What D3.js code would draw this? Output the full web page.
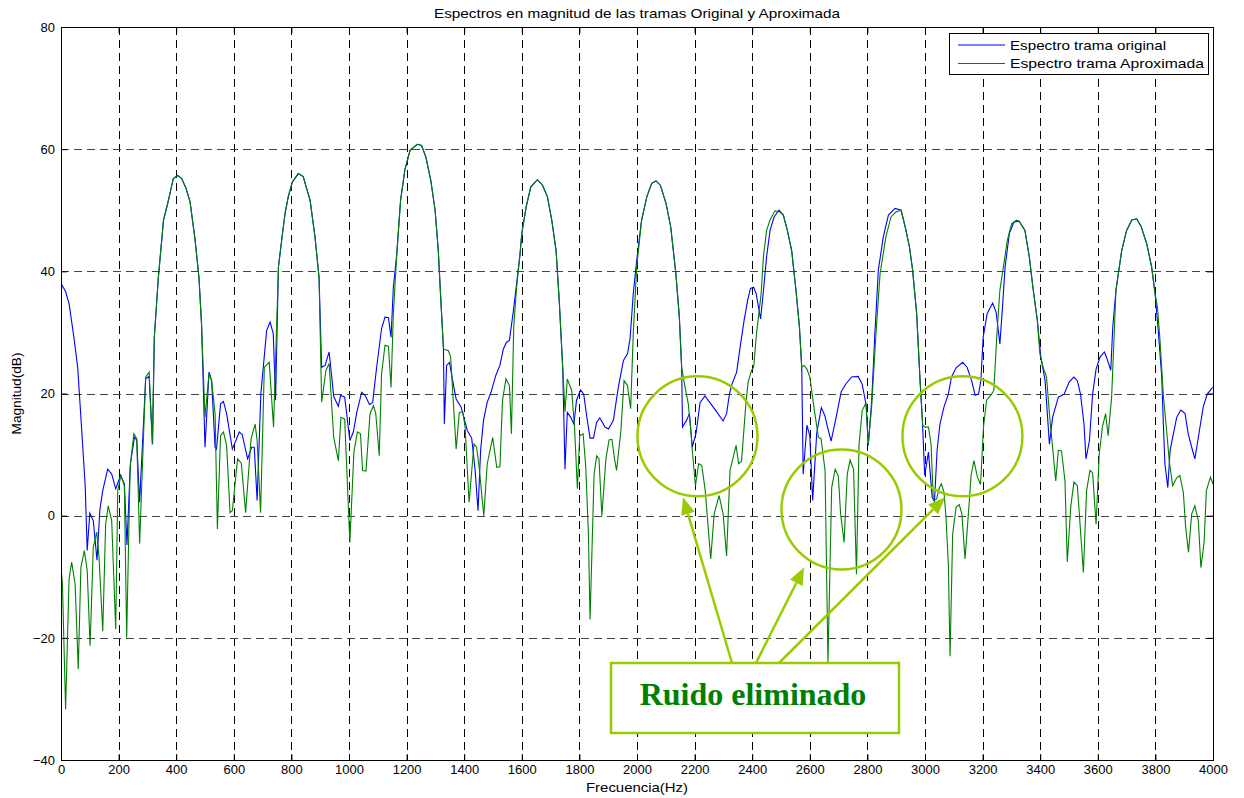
<!DOCTYPE html>
<html><head><meta charset="utf-8">
<script src="https://cdn.jsdelivr.net/npm/d3@7"></script>
<style>body{margin:0;background:#fff}svg{display:block}text{font-family:"Liberation Sans",Arial,sans-serif}</style>
</head><body><div id="chart"></div>
<script>
const titleText = "Espectros en magnitud de las tramas Original y Aproximada";
const xLabel = "Frecuencia(Hz)";
const yLabel = "Magnitud(dB)";
const seriesNames = ["Espectro trama original", "Espectro trama Aproximada"];
const xTicks = [0,200,400,600,800,1000,1200,1400,1600,1800,2000,2200,2400,2600,2800,3000,3200,3400,3600,3800,4000];
const yTicks = [-40,-20,0,20,40,60,80];

// [frequency Hz, magnitude dB]
const original = [[0,38],[16,36.7],[28,34.7],[43,29.8],[58,24.3],[72,13.9],[84,4.9],[91,-5.7],[100,0.4],[112,-0.8],[125,-7.3],[135,1],[145,4.1],[162,7.6],[176,6.8],[190,4.4],[207,6.6],[220,5.2],[229,-4.8],[241,8.5],[255,12.8],[263,12.4],[273,2.2],[294,22.4],[306,22.8],[318,11.7],[324,29.2],[338,39],[356,48.4],[373,51.6],[390,55.2],[405,55.7],[419,55.2],[434,53.6],[448,51.4],[465,45.4],[479,39],[488,31.4],[500,11.2],[514,23.5],[523,22.1],[535,11.2],[540,10.9],[554,18.3],[564,18.7],[575,16.7],[595,10.9],[619,13.7],[629,13.3],[648,9.3],[662,11.2],[671,11.2],[681,2.5],[694,20],[714,30.3],[726,31.7],[737,29.8],[745,18.9],[755,40.7],[766,45],[778,49.5],[789,52.2],[803,54.6],[824,56],[841,55.5],[865,51.6],[882,45.6],[896,39],[905,24.3],[917,24.6],[931,26.8],[947,19.5],[963,17.9],[971,19.7],[985,19.4],[1003,12.3],[1015,13.7],[1027,16.9],[1044,20.2],[1056,19.7],[1071,18.2],[1082,18.5],[1096,24.3],[1113,30.6],[1125,32.5],[1137,32.4],[1146,29.2],[1154,37.4],[1166,42.9],[1179,51.6],[1194,56.6],[1212,59.8],[1237,60.8],[1252,60.6],[1267,58.7],[1284,54.9],[1299,50],[1310,43.4],[1319,35.2],[1328,27.3],[1331,15],[1339,24.6],[1349,25.1],[1360,22.1],[1372,19.1],[1389,17.8],[1403,15.3],[1411,13.9],[1426,12.7],[1438,7.4],[1448,0.8],[1457,10.7],[1467,15.6],[1480,18.6],[1493,20.2],[1510,23],[1524,24.6],[1536,27.3],[1547,28.4],[1557,28.7],[1571,33.6],[1582,38],[1594,42.9],[1600,46.2],[1615,50.5],[1631,53.8],[1654,55],[1672,54.1],[1689,52.2],[1704,48.4],[1719,43.4],[1730,35.2],[1742,24.3],[1750,7.6],[1758,16.9],[1770,16.1],[1781,15],[1790,18.9],[1804,20.6],[1815,19.9],[1825,16.4],[1837,12.7],[1849,12.7],[1860,15.3],[1871,16],[1889,14.5],[1901,14.2],[1918,15.6],[1935,21],[1953,25.4],[1967,26.5],[1976,29],[1987,36.3],[1999,41.8],[2016,48.4],[2034,52.2],[2051,54.4],[2066,54.8],[2081,54.1],[2101,51.1],[2117,47.3],[2135,39.6],[2147,32.5],[2155,24.3],[2158,14.5],[2172,15.6],[2182,16.7],[2192,11.2],[2205,13.5],[2219,18.5],[2236,19.6],[2253,18.5],[2277,17],[2299,15.5],[2311,16.7],[2321,19.9],[2328,21.3],[2346,23.5],[2358,27.6],[2372,32],[2384,35.2],[2394,37.2],[2405,37.4],[2414,36.3],[2429,32.2],[2438,36.3],[2450,42.4],[2462,46.7],[2476,48.9],[2493,50],[2508,49.2],[2522,46.7],[2537,43.4],[2552,36.9],[2564,30.9],[2572,24.3],[2577,6.8],[2590,14.8],[2600,13.1],[2610,2.5],[2624,13.5],[2640,17.7],[2652,16.4],[2663,14.2],[2674,12.2],[2691,16],[2709,20.3],[2726,21.6],[2745,22.7],[2768,22.8],[2782,21.5],[2796,18],[2803,11.5],[2815,18.9],[2826,29.8],[2838,40.2],[2855,45.6],[2873,49.2],[2896,50.3],[2917,50],[2931,47.3],[2946,44],[2957,40.2],[2971,33.1],[2983,22],[2991,15.6],[2999,6.6],[3012,10.4],[3025,3],[3033,2.4],[3042,10.7],[3052,15],[3066,17.8],[3081,19.9],[3092,22.7],[3108,24.2],[3131,25.1],[3146,24.3],[3162,22.1],[3174,19.7],[3186,19.9],[3194,22.1],[3202,29.2],[3216,33.1],[3235,34.8],[3247,33.3],[3260,28.1],[3269,34.1],[3278,40.7],[3293,46.2],[3309,48.1],[3327,48.2],[3347,46.7],[3362,42.4],[3376,36.9],[3390,32],[3402,26],[3417,22.1],[3432,11.7],[3443,16.1],[3463,19.4],[3483,19.9],[3501,21.9],[3517,22.7],[3529,22.1],[3540,19.9],[3552,15],[3559,9.3],[3571,12.3],[3582,19.9],[3594,24],[3608,26],[3623,26.8],[3632,25.7],[3645,23.8],[3652,30.9],[3663,36.9],[3683,43.4],[3700,46.7],[3718,48.4],[3735,48.6],[3750,47.4],[3770,44.5],[3787,40.7],[3799,36.3],[3810,30.3],[3822,22.7],[3828,14.5],[3833,8.5],[3843,4.6],[3851,10.7],[3865,14],[3874,16.1],[3888,17.3],[3903,16.7],[3914,13.4],[3926,11.2],[3937,9.3],[3949,12.8],[3966,17.8],[3980,19.9],[3995,20.8],[4000,21]];

const aproximada = [[0,-8.5],[5,-11.2],[16,-31.7],[28,-10.4],[37,-7.6],[49,-11.2],[60,-25.1],[69,-8.5],[81,-5.7],[91,-9],[101,-21.3],[112,-5.2],[124,-2.7],[132,-6.8],[145,-18.9],[155,-1.4],[164,1.6],[176,-0.8],[190,-18.6],[197,4.1],[208,6.6],[220,4.9],[228,-20],[240,7.9],[253,13.4],[263,12.6],[273,-4.6],[294,22.7],[306,23.5],[317,11.7],[324,29.2],[338,39],[356,48.4],[373,51.6],[390,55.2],[405,55.7],[419,55.2],[434,53.6],[448,51.4],[465,45.4],[479,39],[488,31.4],[500,16.1],[514,23.3],[523,22.1],[535,16.7],[543,-2.2],[554,13.1],[564,13.7],[575,11.5],[587,0.5],[595,0.8],[613,9.3],[626,8.6],[641,0.5],[660,12.6],[674,15],[681,12.3],[693,0.5],[706,24.3],[723,25.1],[738,14.5],[755,40.7],[766,45],[778,49.5],[789,52.2],[803,54.6],[824,56],[841,55.5],[865,51.6],[882,45.6],[896,39],[905,18.6],[920,23.8],[931,24.9],[947,12.8],[963,9],[972,16.1],[985,15.8],[1003,-4.4],[1017,10.4],[1029,13.7],[1040,13.4],[1047,7.4],[1059,7.3],[1073,16.7],[1085,18],[1093,16.7],[1105,9.8],[1113,23.2],[1125,27.9],[1137,27.7],[1146,21],[1154,33],[1166,42.9],[1179,51.6],[1194,56.6],[1212,59.8],[1237,60.8],[1252,60.6],[1267,58.7],[1284,54.9],[1299,50],[1310,43.4],[1319,35.2],[1328,27.3],[1333,27.2],[1345,27],[1353,26],[1372,10.9],[1383,16.9],[1395,17],[1403,14.6],[1417,2.2],[1434,11.7],[1443,11.2],[1452,7.9],[1468,0],[1480,8.5],[1499,12.8],[1513,7.9],[1524,8],[1533,18.9],[1545,22.4],[1557,21.3],[1564,13.4],[1572,30.9],[1582,37.4],[1594,42.9],[1600,46.2],[1615,50.5],[1631,53.8],[1654,55],[1672,54.1],[1689,52.2],[1704,48.4],[1719,43.4],[1730,35.2],[1742,24.3],[1750,17],[1758,22.4],[1773,20.5],[1783,14.6],[1793,4.4],[1801,13.1],[1813,13.4],[1822,8],[1831,-2.5],[1837,-17],[1851,6.8],[1860,9.8],[1868,9.3],[1878,0],[1892,9.3],[1903,12.4],[1913,12.5],[1921,9.6],[1929,7.4],[1944,13.9],[1955,22.1],[1967,21.3],[1978,17.5],[1987,29.8],[1999,40.7],[2016,48.4],[2034,52.2],[2051,54.4],[2066,54.8],[2081,54.1],[2101,51.1],[2117,47.3],[2135,39.6],[2147,32.5],[2155,24.3],[2167,21],[2178,18.3],[2187,13.9],[2193,10.1],[2203,4.9],[2214,8.5],[2225,8.2],[2237,4.1],[2256,-7.1],[2268,0.3],[2285,3.3],[2299,0.3],[2311,-6.6],[2323,7.4],[2344,11.5],[2353,8.5],[2363,8.9],[2378,18.3],[2386,21.9],[2398,23.8],[2405,24.3],[2415,29.8],[2431,36.3],[2439,42.4],[2450,46.7],[2462,48.4],[2479,49.9],[2497,49.7],[2508,49.2],[2522,46.7],[2537,43.4],[2552,36.9],[2564,30.9],[2572,24.3],[2580,24.6],[2590,24],[2600,22.7],[2616,17.2],[2630,12.8],[2639,12.6],[2653,7.4],[2663,-24],[2676,4.6],[2688,7.6],[2699,6.5],[2707,0.3],[2719,-4.4],[2730,6.8],[2740,9.1],[2752,7.6],[2762,-9.6],[2771,11.7],[2782,17.2],[2795,18.5],[2803,11.7],[2815,18],[2830,30],[2844,39.6],[2864,45.6],[2882,48.9],[2899,49.7],[2917,50],[2931,47.3],[2946,44],[2957,40.2],[2971,33.1],[2983,22],[2992,14.8],[3001,14.5],[3012,14.5],[3021,11.7],[3029,2.5],[3040,2.7],[3050,4.6],[3057,5.2],[3066,3.8],[3073,-0.3],[3081,-7.9],[3087,-23],[3096,-3],[3108,1.4],[3119,1.8],[3128,0.3],[3139,-7.1],[3151,0.5],[3160,6.6],[3170,9],[3182,6.3],[3193,5.1],[3203,14.5],[3214,18.9],[3231,19.9],[3239,20.5],[3249,29.2],[3260,36.9],[3272,40.7],[3286,45.1],[3301,47.8],[3318,48.4],[3327,48.2],[3347,46.7],[3362,42.4],[3376,36.9],[3390,32],[3399,26.5],[3410,24.3],[3422,22.7],[3434,15.6],[3443,11.2],[3454,5.7],[3463,10.7],[3474,10.6],[3486,5.7],[3494,-7.6],[3506,1.4],[3517,5.5],[3529,4.9],[3536,0.2],[3550,-9.3],[3561,4.1],[3573,7.4],[3582,7],[3594,-1.4],[3605,10.1],[3616,14.5],[3627,16.7],[3636,13.1],[3648,19.4],[3663,36.9],[3683,43.4],[3700,46.7],[3718,48.4],[3735,48.6],[3750,47.4],[3770,44.5],[3787,40.7],[3799,36.3],[3807,34.2],[3816,28.7],[3828,19.4],[3840,13.4],[3848,9],[3860,4.9],[3874,6.2],[3885,6.6],[3897,3.8],[3905,-1.9],[3915,-6],[3926,0.3],[3937,1.6],[3949,-0.8],[3958,-8.5],[3969,-4.4],[3977,4.1],[3991,6.3],[4000,5.2]];

// annotation: circles in data coords [freq, dB], arrow tip points [freq, dB]
const noteLabel = "Ruido eliminado";
const noteCircles = [[2210,13],[2710,1],[3130,13]];
const noteArrowTips = [[2160,3],[2580,-8.5],[3070,3]];

const W = 1244, H = 798;
const m = {top:27, right:31, bottom:38, left:61};
const svg = d3.select("#chart").append("svg").attr("width", W).attr("height", H);
const x = d3.scaleLinear().domain([0,4000]).range([m.left, W - m.right]);
const y = d3.scaleLinear().domain([-40,80]).range([H - m.bottom, m.top]);

svg.append("defs").append("clipPath").attr("id","clip").append("rect")
  .attr("x", m.left).attr("y", m.top).attr("width", x(4000)-x(0)).attr("height", y(-40)-y(80));

// grid
const grid = svg.append("g").attr("stroke","#000").attr("stroke-width",1).attr("stroke-dasharray","8,5").attr("shape-rendering","crispEdges");
grid.selectAll("line.v").data(xTicks.slice(1,-1)).join("line").attr("class","v")
  .attr("x1", d => Math.round(x(d))+0.5).attr("x2", d => Math.round(x(d))+0.5).attr("y1", y(80)).attr("y2", y(-40));
grid.selectAll("line.h").data(yTicks.slice(1,-1)).join("line").attr("class","h")
  .attr("y1", d => Math.round(y(d))+0.5).attr("y2", d => Math.round(y(d))+0.5).attr("x1", x(0)).attr("x2", x(4000)).attr("stroke","#444");

// axes
const fs = 13;
const gx = svg.append("g").attr("transform", `translate(0,${y(-40)})`)
  .call(d3.axisBottom(x).tickValues(xTicks).tickFormat(d3.format("d")).tickSize(-6).tickPadding(5).tickSizeOuter(0));
const gxt = svg.append("g").attr("transform", `translate(0,${y(80)})`)
  .call(d3.axisTop(x).tickValues(xTicks).tickSize(-6).tickFormat("").tickSizeOuter(0));
const gy = svg.append("g").attr("transform", `translate(${x(0)},0)`)
  .call(d3.axisLeft(y).tickValues(yTicks).tickFormat(d3.format("d")).tickSize(-6).tickPadding(6).tickSizeOuter(0));
const gyr = svg.append("g").attr("transform", `translate(${x(4000)},0)`)
  .call(d3.axisRight(y).tickValues(yTicks).tickSize(-6).tickFormat("").tickSizeOuter(0));
[gx,gxt,gy,gyr].forEach(g => {
  g.select(".domain").remove();
  g.selectAll("line").attr("stroke","#000");
  g.selectAll("text").attr("fill","#000").style("font-size", fs+"px").style("font-family","'Liberation Sans',Arial,sans-serif");
});

// series
const line = d3.line().x(d => x(d[0])).y(d => y(d[1]));
const plot = svg.append("g").attr("clip-path","url(#clip)");
plot.append("path").datum(original).attr("d", line).attr("fill","none").attr("stroke","#0000ff").attr("stroke-width",1.1);
plot.append("path").datum(aproximada).attr("d", line).attr("fill","none").attr("stroke","#008000").attr("stroke-width",1.1);

// box
svg.append("rect").attr("x", x(0)+0.5).attr("y", y(80)+0.5).attr("width", x(4000)-x(0)).attr("height", y(-40)-y(80))
  .attr("fill","none").attr("stroke","#000").attr("stroke-width",1).attr("shape-rendering","crispEdges");

// titles (stretched horizontally like the reference rendering)
const cx = (x(0)+x(4000))/2;
svg.append("text").attr("x", cx).attr("y", 18).attr("text-anchor","middle").style("font-size","13px")
  .attr("textLength", 406).attr("lengthAdjust","spacingAndGlyphs").text(titleText);
svg.append("text").attr("x", cx).attr("y", 792).attr("text-anchor","middle").style("font-size","13px")
  .attr("textLength", 102).attr("lengthAdjust","spacingAndGlyphs").text(xLabel);
svg.append("text").attr("transform", `translate(21,${(y(80)+y(-40))/2}) rotate(-90)`).attr("text-anchor","middle").style("font-size","13px")
  .attr("textLength", 82).attr("lengthAdjust","spacingAndGlyphs").text(yLabel);

// legend
const lg = svg.append("g");
lg.append("rect").attr("x",949.5).attr("y",33.5).attr("width",259).attr("height",41).attr("fill","#fff").attr("stroke","#000");
const lcol = ["#0000ff","#008000"];
const lw = [156, 194];
seriesNames.forEach((n,i) => {
  const ly = 45 + i*18.5;
  lg.append("line").attr("x1",958).attr("x2",1005).attr("y1",ly).attr("y2",ly).attr("stroke",lcol[i]).attr("stroke-width",1.1);
  lg.append("text").attr("x",1010).attr("y",ly+4.5).style("font-size","13px")
    .attr("textLength", lw[i]).attr("lengthAdjust","spacingAndGlyphs").text(n);
});

// annotations
const ac = "#99cc00";
const ann = svg.append("g");
noteCircles.forEach(c => {
  ann.append("circle").attr("cx", x(c[0])).attr("cy", y(c[1])).attr("r", 60).attr("fill","none").attr("stroke",ac).attr("stroke-width",2.5);
});
const boxX = 611, boxY = 663, boxW = 288, boxH = 70;
const starts = [[732,boxY],[756,boxY],[779,boxY]];
noteArrowTips.forEach((t,i) => {
  const tx = x(t[0]), ty = y(t[1]);
  const [sx, sy] = starts[i];
  const ang = Math.atan2(ty - sy, tx - sx);
  const L = 17, Wd = 7;
  const bx = tx - L*Math.cos(ang), by = ty - L*Math.sin(ang);
  ann.append("line").attr("x1",sx).attr("y1",sy).attr("x2",bx).attr("y2",by).attr("stroke",ac).attr("stroke-width",2.5);
  const p1 = [bx + Wd*Math.sin(ang), by - Wd*Math.cos(ang)];
  const p2 = [bx - Wd*Math.sin(ang), by + Wd*Math.cos(ang)];
  ann.append("path").attr("d", `M${tx},${ty}L${p1[0]},${p1[1]}L${p2[0]},${p2[1]}Z`).attr("fill",ac);
});
ann.append("rect").attr("x",boxX).attr("y",boxY).attr("width",boxW).attr("height",boxH).attr("fill","#fff").attr("stroke",ac).attr("stroke-width",2.5);
ann.append("text").attr("x", boxX + boxW/2 - 2).attr("y", boxY + 42).attr("text-anchor","middle")
  .style("font-family","'Liberation Serif','Times New Roman',serif").style("font-weight","bold").style("font-size","32px").attr("fill","#008000").text(noteLabel);
</script></body></html>
